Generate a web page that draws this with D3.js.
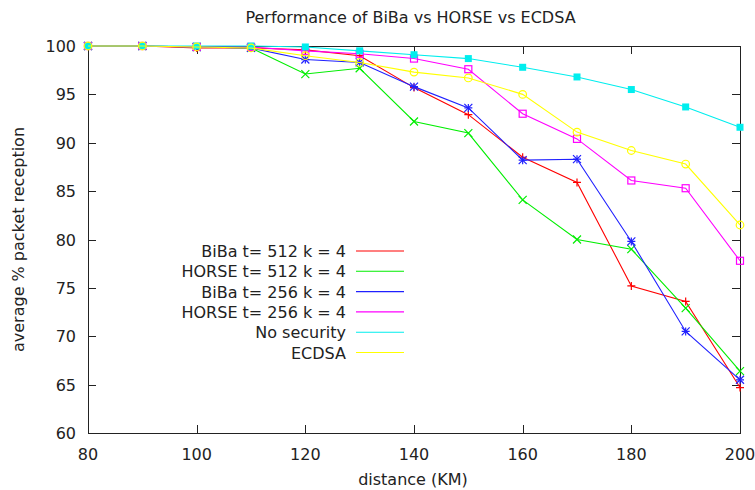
<!DOCTYPE html>
<html>
<head>
<meta charset="UTF-8">
<title>Performance of BiBa vs HORSE vs ECDSA</title>
<script src="https://d3js.org/d3.v7.min.js"></script>
<style>
  body { margin: 0; background: #fff; }
  svg text { font-family: "DejaVu Sans", sans-serif; fill: #222; font-size: 16px; }
  .frame { fill: none; stroke: #222; stroke-width: 1px; shape-rendering: crispEdges; }
  .tick-line { stroke: #222; stroke-width: 1px; shape-rendering: crispEdges; }
  .series { fill: none; stroke-width: 1.1px; }
</style>
</head>
<body>
<div id="chart"></div>
<script>
// data
const distance = [80, 90, 100, 110, 120, 130, 140, 150, 160, 170, 180, 190, 200];
const biba512  = [100, 100, 99.8, 99.8, 99.6, 99.0, 95.7, 92.9, 88.5, 85.9, 75.2, 73.6, 64.7];
const horse512 = [100, 100, 99.9, 99.8, 97.1, 97.7, 92.2, 91.0, 84.1, 80.0, 79.0, 72.9, 66.4];
const biba256  = [100, 100, 99.9, 99.8, 98.6, 98.3, 95.8, 93.6, 88.2, 88.3, 79.8, 70.5, 65.5];
const horse256 = [100, 100, 99.9, 99.9, 99.5, 99.2, 98.7, 97.6, 93.0, 90.4, 86.1, 85.3, 77.8];
const noSecurity = [100, 100, 100, 100, 99.9, 99.5, 99.1, 98.7, 97.8, 96.8, 95.5, 93.7, 91.6];
const ecdsa    = [100, 100, 99.9, 99.8, 99.0, 98.3, 97.3, 96.7, 95.0, 91.1, 89.2, 87.8, 81.5];

const seriesNames = ["BiBa t= 512 k = 4", "HORSE t= 512 k = 4", "BiBa t= 256 k = 4",
                     "HORSE t= 256 k = 4", "No security", "ECDSA"];
const seriesValues = [biba512, horse512, biba256, horse256, noSecurity, ecdsa];
const seriesColors = ["#ff0000", "#00ee00", "#2020ff", "#ff00ff", "#00eeee", "#ffff00"];
const seriesMarkers = ["plus", "cross", "star", "square", "filledSquare", "circle"];

const xTicks = [80, 100, 120, 140, 160, 180, 200];
const yTicks = [60, 65, 70, 75, 80, 85, 90, 95, 100];

const width = 755, height = 490;
const margin = {top: 46, right: 15, bottom: 57, left: 88};
const plotW = width - margin.left - margin.right;
const plotH = height - margin.top - margin.bottom;

const svg = d3.select("#chart").append("svg")
    .attr("width", width).attr("height", height);

const x = d3.scaleLinear().domain([80, 200]).range([margin.left, margin.left + plotW]);
const y = d3.scaleLinear().domain([60, 100]).range([margin.top + plotH, margin.top]);

// frame
svg.append("rect").attr("class", "frame")
    .attr("x", margin.left + 0.5).attr("y", margin.top + 0.5)
    .attr("width", plotW).attr("height", plotH);

// ticks (inward, mirrored on top/right)
const tl = 8;
xTicks.forEach(v => {
    const px = Math.round(x(v)) + 0.5;
    svg.append("line").attr("class", "tick-line")
        .attr("x1", px).attr("x2", px).attr("y1", margin.top + plotH).attr("y2", margin.top + plotH - tl);
    svg.append("line").attr("class", "tick-line")
        .attr("x1", px).attr("x2", px).attr("y1", margin.top).attr("y2", margin.top + tl);
    svg.append("text").attr("x", x(v)).attr("y", 460)
        .attr("text-anchor", "middle").text(v);
});
yTicks.forEach(v => {
    const py = Math.round(y(v)) + 0.5;
    svg.append("line").attr("class", "tick-line")
        .attr("x1", margin.left).attr("x2", margin.left + tl).attr("y1", py).attr("y2", py);
    svg.append("line").attr("class", "tick-line")
        .attr("x1", margin.left + plotW).attr("x2", margin.left + plotW - tl).attr("y1", py).attr("y2", py);
    svg.append("text").attr("x", margin.left - 12).attr("y", y(v) + 6)
        .attr("text-anchor", "end").text(v);
});

// titles
svg.append("text").attr("x", 410.5).attr("y", 23).attr("text-anchor", "middle")
    .text("Performance of BiBa vs HORSE vs ECDSA");
svg.append("text").attr("x", 413).attr("y", 485).attr("text-anchor", "middle")
    .text("distance (KM)");
svg.append("text").attr("transform", "translate(24," + (margin.top + plotH / 2) + ") rotate(-90)")
    .attr("text-anchor", "middle").text("average % packet reception");

function drawMarker(g, type, cx, cy, color) {
    const s = 4;
    if (type === "plus" || type === "star") {
        g.append("path").attr("d", `M${cx - s},${cy}H${cx + s}M${cx},${cy - s}V${cy + s}`)
            .attr("stroke", color).attr("stroke-width", 1.2);
    }
    if (type === "cross" || type === "star") {
        g.append("path").attr("d", `M${cx - s},${cy - s}L${cx + s},${cy + s}M${cx - s},${cy + s}L${cx + s},${cy - s}`)
            .attr("stroke", color).attr("stroke-width", 1.2);
    }
    if (type === "square") {
        g.append("rect").attr("x", cx - 3.5).attr("y", cy - 3.5).attr("width", 7).attr("height", 7)
            .attr("fill", "none").attr("stroke", color).attr("stroke-width", 1.2);
    }
    if (type === "filledSquare") {
        g.append("rect").attr("x", cx - 3.5).attr("y", cy - 3.5).attr("width", 7).attr("height", 7)
            .attr("fill", color);
    }
    if (type === "circle") {
        g.append("circle").attr("cx", cx).attr("cy", cy).attr("r", 3.8)
            .attr("fill", "none").attr("stroke", color).attr("stroke-width", 1.2);
    }
}

const line = d3.line().x((d, i) => x(distance[i])).y(d => y(d));

seriesValues.forEach((vals, k) => {
    const g = svg.append("g");
    g.append("path").attr("class", "series").attr("d", line(vals)).attr("stroke", seriesColors[k]);
    vals.forEach((v, i) => drawMarker(g, seriesMarkers[k], x(distance[i]), y(v), seriesColors[k]));
});

// legend
const legX = 346, legY0 = 251, legStep = 20.3;
seriesNames.forEach((name, k) => {
    const ly = legY0 + k * legStep;
    svg.append("text").attr("x", legX).attr("y", ly + 6).attr("text-anchor", "end").text(name);
    svg.append("line").attr("x1", 356).attr("x2", 404).attr("y1", ly).attr("y2", ly)
        .attr("stroke", seriesColors[k]).attr("stroke-width", 1.1);
});
</script>
</body>
</html>
